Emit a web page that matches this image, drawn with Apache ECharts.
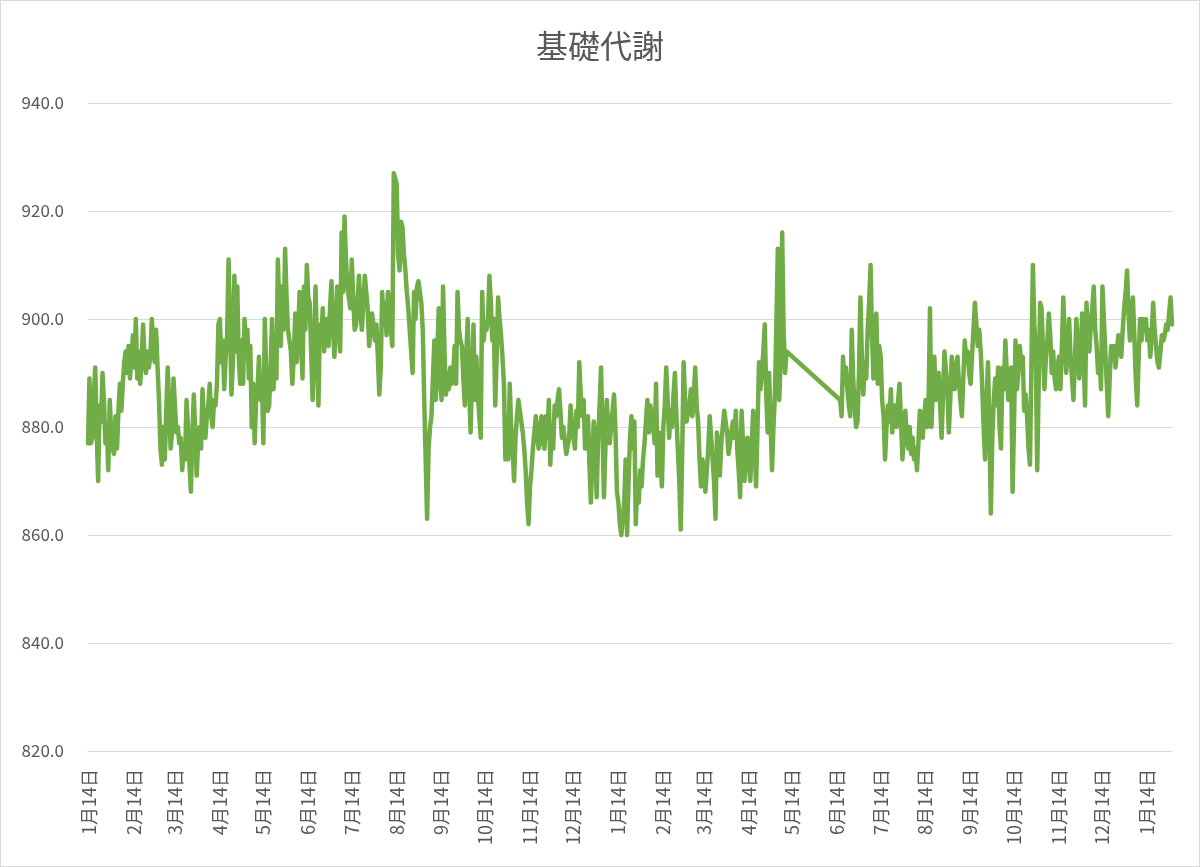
<!DOCTYPE html>
<html>
<head>
<meta charset="utf-8">
<script src="https://cdn.jsdelivr.net/npm/echarts@6/dist/echarts.min.js"></script>
<style>
html,body{margin:0;padding:0;background:#fff;}
#chart{width:1200px;height:867px;box-sizing:border-box;border:1px solid #d9d9d9;}
</style>
</head>
<body>
<div id="chart"></div>
<script>
// ---- data ----
const startDate = '2021-01-13';
const titleText = '基礎代謝';
const yTicks = [820, 840, 860, 880, 900, 920, 940];

const values2021a = [
 877,889,877,878,886,891,879,870,884,881,
 890,885,877,880,872,885,879,876,875,882,
 876,883,888,883,888,892,894,890,895,889,
 893,897,891,900,889,894,888,892,899,893,
 890,894,891,893,900,896,892,898,891,885,
 876,873,880,874,883,891,884,876,879,889,
 884,879,880,877,878,872,876,874,885,880,
 873,868,878,886,879,871,877,880,876,887,
 881,878,882,884,888,882,880,885,884,888,
 899,900,892,896,887,893,897,911,899,886,
 892,908,894,906,893,888,896,888,900,893,
 898,889,895,880,888,877,885,887,893,885,
 889,877
];
const values2021b = [
 900,890,883,884,891,900,887,892,889,911,
 902,895,906,898,913,904,898,896,894,888,
 893,901,892,897,905,896,889,906,898,910,
 904,903,894,885,893,906,895,884,899,896,
 902,894,898,900,895,902,907,899,893,898,
 906,900,894,916,905,919,911,906,904,902,
 911,904,898,899,903,908,901,898,903,908,
 908,902,895,898,901,899,896,899,893,886,
 891,905,899,903,897,905,900,898,895,927,
 926,925,912,909,918,917,912,909,905,902,
 898,894,890,905,900,906,907,907,903,898,
 885,874,863,876,880,882,889,896,885,893
];
const values2021c = [
 902,889,885,906,894,886,890,887,891,888,
 890,895,888,905,898,896,895,889,884,893,
 900,887,879,890,899,885,893,886,882,878,
 905,896,899,898,900,908,903,896,900,884,
 893,904,900,897,893,888,874,879,874,888,
 880,876,870,878,882,885,883,881,879,876,
 872,866,862,869,872,876,879,882,878,876,
 880,882,877,876,882,878,885,873,880,876,
 884,882,885,887,883,878,880,880,875,875,
 878,884,880,878,876,883,880,892,886,882,
 885,876,879,882,873,866,874,881,876,867,
 878,884,891,880,867,876,885,880,877,880,
 883,886,879
];
const values2022a = [
 868,866,862,860,860,866,874,860,870,878,
 882,876,881,862,870,866,872,869,874,877,
 881,885,879,884,884,880,877,888,871,879,
 875,869,880,884,891,885,878,883,880,886,
 890,882,876,870,861,875,892,885,881,881,
 884,887,882,886,891,884,881,874,869,874,
 871,868,872,876,882,878,874,870,863,879,
 876,871,877,880,883,883,879,875,877,879,
 881,878,883,876,872,867,883,877,870,874,
 878,874,870,877,883,876,869,880,892,887,
 890,894,899,886,879,890,881,872,880,886,
 899,913,885,893,916,898,890,894
];
const missingDays = 36; // no measurements (May 11 - Jun 15, 2022)
const values2022b = [
 885,882,893,888,891,887,884,882,898,889,
 884,880,881,890,904,893,886,892,889,898,
 903,910,897,889,900,901,888,895,893,885,
 882,874,880,884,881,887,879,883,884,880,
 885,888,881,874,879,883,878,876,880,875,
 878,874,876,872,877,883,882,878,882,885,
 880,884,902,880,887,893,885,889,890,884,
 878,886,894,894,887,879,885,893,890,887,
 891,893,888,885,882,889,896,892,894,890,
 888,893,898,903,899,895,898,894,888,880,
 874,884,892,880,864,878,885,889,884,891,
 880,876,891,887,896,890,885,888,891,868,
 881,896,887,890,895,891,893,883,886,882,
 876,873,892,910,899,894,872,888
];
const values2022c = [
 903,902,894,887,893,896,901,897,890,894,
 889,887,891,893,887,895,904,896,890,895,
 900,893,889,885,892,900,895,889,893,901,
 893,884,903,897,894,899,902,906,898,895,
 890,893,887,906,900,894,888,882,889,895,
 893,895,891,894,897,895,893,898,902,905,
 909,901,896,899,904,897,889,884,893,900,
 896,900,898,900,896,898,893,897,903,898,
 895,892,891,894,897,896,897,899,898,901,
 904,899
];

// ---- build ----
const gap = new Array(missingDays).fill(null);
const seriesData = [].concat(values2021a, values2021b, values2021c, values2022a, gap, values2022b, values2022c);

const categories = [];
{
  const p = startDate.split('-').map(Number);
  const t0 = Date.UTC(p[0], p[1] - 1, p[2]);
  for (let i = 0; i < seriesData.length; i++) {
    const d = new Date(t0 + i * 86400000);
    const s = d.getUTCFullYear() + '-' + String(d.getUTCMonth() + 1).padStart(2, '0') + '-' + String(d.getUTCDate()).padStart(2, '0');
    categories.push(s);
  }
}

const FONT = '"Noto Sans CJK JP", "Noto Sans", sans-serif';
const chart = echarts.init(document.getElementById('chart'), null, {renderer: 'canvas'});
chart.setOption({
  animation: false,
  backgroundColor: '#ffffff',
  title: {
    text: titleText,
    left: 'center',
    top: 24,
    textStyle: {fontFamily: FONT, fontSize: 32, fontWeight: 'normal', color: '#595959'}
  },
  grid: {left: 87, right: 27, top: 102, bottom: 115, containLabel: false},
  xAxis: {
    type: 'category',
    data: categories,
    boundaryGap: false,
    axisLine: {show: true, lineStyle: {color: '#d9d9d9', width: 1}},
    axisTick: {show: false},
    splitLine: {show: false},
    axisLabel: {
      rotate: 90,
      margin: 18,
      color: '#595959',
      fontFamily: FONT,
      fontSize: 18,
      interval: function (idx, val) { return val.slice(8) === '14'; },
      formatter: function (val) {
        const p = val.split('-');
        return Number(p[1]) + '月' + Number(p[2]) + '日';
      }
    }
  },
  yAxis: {
    type: 'value',
    min: yTicks[0],
    max: yTicks[yTicks.length - 1],
    interval: yTicks[1] - yTicks[0],
    axisLine: {show: false},
    axisTick: {show: false},
    splitLine: {show: true, lineStyle: {color: '#d9d9d9', width: 1}},
    axisLabel: {
      margin: 24,
      color: '#595959',
      fontFamily: FONT,
      fontSize: 17,
      formatter: function (v) { return v.toFixed(1); }
    }
  },
  series: [{
    type: 'line',
    data: seriesData,
    connectNulls: true,
    showSymbol: false,
    symbol: 'none',
    lineStyle: {color: '#70ad47', width: 4.5, cap: 'round', join: 'round'},
    itemStyle: {color: '#70ad47'}
  }]
});
</script>
</body>
</html>
